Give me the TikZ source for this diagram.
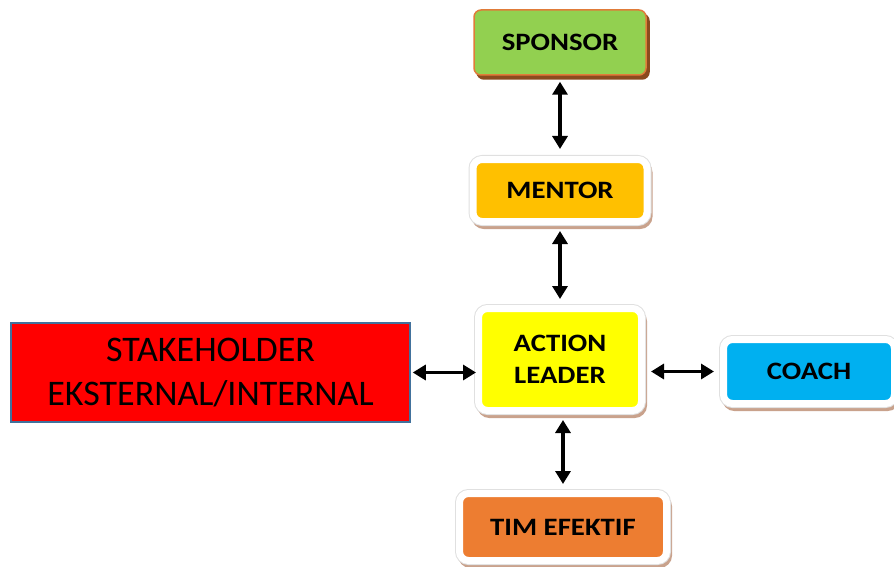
\documentclass[tikz,border=0pt]{standalone}
\usepackage{fontspec}
\setmainfont{Carlito}
\usetikzlibrary{arrows.meta}
\definecolor{sgreen}{HTML}{92D050}
\definecolor{sborder}{HTML}{E07B39}
\definecolor{sshadow}{HTML}{8B4A1E}
\definecolor{mentorc}{HTML}{FFC000}
\definecolor{alc}{HTML}{FFFF00}
\definecolor{coachc}{HTML}{00B0F0}
\definecolor{timc}{HTML}{ED7D31}
\definecolor{shc}{HTML}{FF0000}
\definecolor{shborder}{HTML}{41719C}
\definecolor{fshadow}{HTML}{C9A28C}
\newcommand{\wtxt}[1]{\scalebox{1.15}[1]{#1}}
\tikzset{
  boxtext/.style={font=\fontsize{25}{29}\selectfont\bfseries, align=center, text=black},
  framebox/.style={boxtext, rounded corners=9pt, draw=white, line width=7pt, inner sep=0pt,
    preaction={draw=fshadow, fill=fshadow, line width=7pt, transform canvas={shift={(2pt,-4pt)}}},
    preaction={draw=black!12, line width=9pt}},
  sponsorbox/.style={boxtext, rounded corners=7pt, draw=sborder, line width=1.5pt, fill=sgreen, inner sep=0pt,
    preaction={draw=sshadow, fill=sshadow, line width=1.5pt, transform canvas={shift={(3pt,-4pt)}}}},
  link/.style={line width=3.5pt, {Triangle[length=13pt,width=15pt]}-{Triangle[length=13pt,width=15pt]}}
}
\begin{document}
\begin{tikzpicture}[x=1pt,y=-1pt]
\useasboundingbox (0,0) rectangle (894,567);
\begin{scope}
\clip (0,0) rectangle (894,567);
\node[sponsorbox, minimum width=172pt, minimum height=65pt] (sp) at (560,42.5) {\wtxt{SPONSOR}};
\node[framebox, fill=mentorc, minimum width=174pt, minimum height=62pt] (me) at (560,190.5) {\wtxt{MENTOR}};
\node[framebox, fill=alc, minimum width=163pt, minimum height=102pt] (al) at (560,359.5) {\wtxt{ACTION}\\[3pt]\wtxt{LEADER}};
\node[framebox, fill=coachc, minimum width=171pt, minimum height=64pt] (co) at (809,371.5) {\wtxt{COACH}};
\node[framebox, fill=timc, minimum width=207pt, minimum height=67pt] (tim) at (563,527) {\wtxt{TIM EFEKTIF}};
\node[draw=shborder, line width=1.5pt, fill=shc, minimum width=399pt, minimum height=99pt, inner sep=0pt,
  align=center, font=\fontsize{36}{44}\selectfont] (sh) at (210.5,372.5) {STAKEHOLDER\\EKSTERNAL/INTERNAL};
\end{scope}
\draw[link, shorten <=6pt, shorten >=7pt] (sp.south) -- (me.north);
\draw[link, shorten <=6pt, shorten >=6pt] (me.south) -- (al.north);
\draw[link, shorten <=6pt, shorten >=6pt] (al.south -| tim.north) -- (tim.north);
\draw[link, shorten <=2pt, shorten >=-1pt] (sh.east) -- (sh.east -| al.west);
\draw[link, shorten <=6pt, shorten >=6pt] (al.east |- co.west) -- (co.west);
\end{tikzpicture}
\end{document}
